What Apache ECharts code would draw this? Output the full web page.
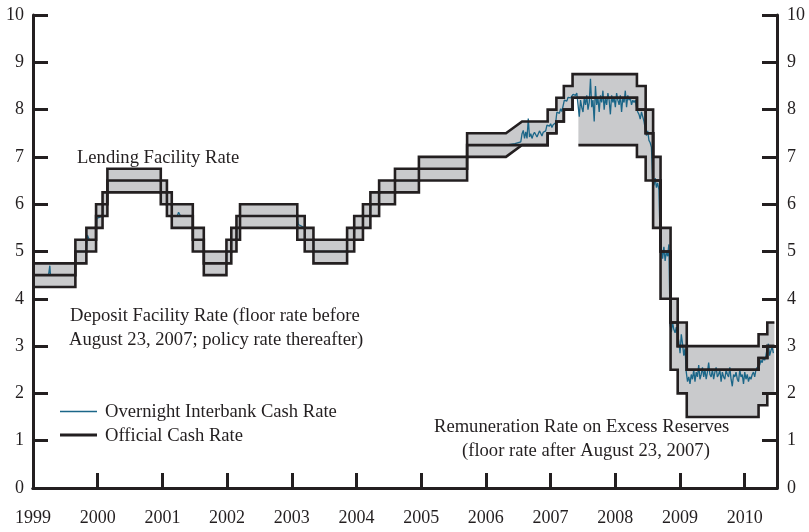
<!DOCTYPE html>
<html>
<head>
<meta charset="utf-8">
<script src="https://cdn.jsdelivr.net/npm/echarts@6.0.0/dist/echarts.min.js"></script>
<style>
  html, body { margin: 0; padding: 0; background: #fff; }
  #chart { width: 809px; height: 532px; }
</style>
</head>
<body>
<div id="chart"></div>
<script>
// x = position in years as plotted, y = rate in per cent
// each step: [year the level starts, level] ; optional 3rd item = year the move ends (a ramp)
const yearTicks = [1999, 2000, 2001, 2002, 2003, 2004, 2005, 2006, 2007, 2008, 2009, 2010]
const endYear = 2010.46

const ocrSteps = [
  [1999.00, 4.50], [1999.655, 5.00], [1999.825, 5.25], [1999.975, 5.75], [2000.075, 6.00],
  [2000.15, 6.50], [2000.975, 6.25], [2001.07, 6.00], [2001.145, 5.75], [2001.47, 5.25],
  [2001.64, 4.75], [2001.99, 5.00], [2002.065, 5.25], [2002.145, 5.50], [2002.20, 5.75],
  [2003.085, 5.50], [2003.20, 5.25], [2003.335, 5.00], [2003.855, 5.25], [2003.965, 5.50],
  [2004.10, 5.75], [2004.215, 6.00], [2004.35, 6.25], [2004.595, 6.50], [2004.965, 6.75],
  [2005.71, 7.25], [2006.955, 7.50], [2007.09, 7.75], [2007.205, 8.00], [2007.34, 8.25],
  [2008.335, 8.00], [2008.47, 7.50], [2008.585, 6.50], [2008.70, 5.00], [2008.855, 3.50],
  [2008.965, 3.00], [2009.105, 2.50], [2010.215, 2.75], [2010.35, 3.00]
]

const lendSteps = [
  [1999.00, 4.75], [1999.655, 5.25], [1999.825, 5.50], [1999.975, 6.00], [2000.075, 6.25],
  [2000.15, 6.75], [2000.975, 6.50], [2001.07, 6.25], [2001.145, 6.00], [2001.47, 5.50],
  [2001.64, 5.00], [2001.99, 5.25], [2002.065, 5.50], [2002.145, 5.75], [2002.20, 6.00],
  [2003.085, 5.75], [2003.20, 5.50], [2003.335, 5.25], [2003.855, 5.50], [2003.965, 5.75],
  [2004.10, 6.00], [2004.215, 6.25], [2004.35, 6.50], [2004.595, 6.75], [2004.965, 7.00],
  [2005.71, 7.50], [2006.31, 7.75, 2006.56], [2006.955, 8.00], [2007.09, 8.25], [2007.205, 8.50],
  [2007.34, 8.75], [2008.335, 8.50], [2008.47, 8.00], [2008.585, 7.00], [2008.70, 5.50],
  [2008.855, 4.00], [2008.965, 3.50], [2009.105, 3.00], [2010.215, 3.25], [2010.35, 3.50]
]

const depoSteps = [
  [1999.00, 4.25], [1999.655, 4.75], [1999.825, 5.00], [1999.975, 5.50], [2000.075, 5.75],
  [2000.15, 6.25], [2000.975, 6.00], [2001.07, 5.75], [2001.145, 5.50], [2001.47, 5.00],
  [2001.64, 4.50], [2001.99, 4.75], [2002.065, 5.00], [2002.145, 5.25], [2002.20, 5.50],
  [2003.085, 5.25], [2003.20, 5.00], [2003.335, 4.75], [2003.855, 5.00], [2003.965, 5.25],
  [2004.10, 5.50], [2004.215, 5.75], [2004.35, 6.00], [2004.595, 6.25], [2004.965, 6.50],
  [2005.71, 7.00], [2006.31, 7.25, 2006.56], [2006.955, 7.50], [2007.09, 7.75], [2007.205, 8.00],
  [2007.34, 8.25], [2008.335, 8.00], [2008.47, 7.50], [2008.585, 6.50], [2008.70, 5.00],
  [2008.855, 3.50], [2008.965, 3.00], [2009.105, 2.50], [2010.215, 2.75], [2010.35, 3.00]
]

// remuneration rate on excess reserves, from August 23, 2007
const remSteps = [
  [2007.43, 7.25], [2008.335, 7.00], [2008.47, 6.50], [2008.585, 5.50], [2008.70, 4.00],
  [2008.855, 2.50], [2008.965, 2.00], [2009.105, 1.50], [2010.215, 1.75], [2010.35, 2.00]
]

// overnight interbank cash rate: sparse points while it sits on the OCR ...
const cashQuiet = [
  [1999.00, 4.50], [1999.24, 4.50], [1999.26, 4.70], [1999.27, 4.50], [1999.655, 4.50],
  [1999.66, 5.00], [1999.825, 5.00], [1999.84, 5.35], [1999.87, 5.25], [1999.975, 5.25],
  [1999.985, 5.70], [2000.075, 5.75], [2000.08, 6.00], [2000.15, 6.00], [2000.155, 6.50],
  [2000.975, 6.50], [2000.98, 6.25], [2001.07, 6.25], [2001.075, 6.00], [2001.145, 6.00],
  [2001.15, 5.75], [2001.23, 5.75], [2001.25, 5.83], [2001.28, 5.75], [2001.47, 5.75],
  [2001.475, 5.25], [2001.64, 5.25], [2001.645, 4.75], [2001.99, 4.75], [2001.995, 5.00],
  [2002.065, 5.00], [2002.07, 5.25], [2002.145, 5.25], [2002.15, 5.50], [2002.20, 5.50],
  [2002.205, 5.75], [2003.085, 5.75], [2003.10, 5.57], [2003.20, 5.50], [2003.205, 5.25],
  [2003.335, 5.25], [2003.34, 5.00], [2003.855, 5.00], [2003.86, 5.25], [2003.965, 5.25],
  [2003.97, 5.50], [2004.10, 5.50], [2004.105, 5.75], [2004.215, 5.75], [2004.22, 6.00],
  [2004.35, 6.00], [2004.355, 6.25], [2004.595, 6.25], [2004.60, 6.50], [2004.965, 6.50],
  [2004.97, 6.75], [2005.71, 6.75], [2005.715, 7.25], [2006.31, 7.25], [2006.45, 7.28]
]
// ... then weekly values from mid-2006 on
const cashWeekStart = 2006.54
const cashWeekly = [
  7.32, 7.49, 7.56, 7.39, 7.53, 7.39, 7.81, 7.42, 7.49, 7.39, 7.47, 7.52, 7.49, 7.42, 7.45,
  7.55, 7.50, 7.44, 7.52, 7.48, 7.55, 7.67,
  7.67, 7.65, 7.70, 7.62, 7.68, 7.66, 7.72,
  7.95, 7.98, 7.92, 8.02, 7.96, 7.99,
  8.20, 8.24, 8.18, 8.26, 8.22, 8.25, 8.28,
  8.32, 8.36, 8.30, 8.35, 8.33,
  7.85, 8.20, 8.05, 7.95, 8.25, 8.10, 8.30, 8.00, 8.15, 8.65, 8.05, 8.20, 7.75, 8.50, 8.10,
  8.25, 7.95, 8.30, 8.15, 8.40, 8.00, 8.25, 8.10, 8.35, 8.20, 7.90, 8.30, 8.15, 8.25, 8.05,
  8.35, 8.20, 8.10, 8.30, 7.95, 8.25, 8.15, 8.40, 8.05, 8.30, 8.20, 8.25, 8.10, 8.20, 8.15, 8.20,
  8.05, 7.95, 7.90, 7.80, 7.95, 7.85, 7.75,
  7.60, 7.45, 7.55, 7.35, 7.30, 7.20,
  6.50, 6.40, 6.55, 6.35, 6.45, 6.30,
  5.25, 5.05, 4.85, 5.10, 4.80, 5.00, 4.90, 5.15,
  3.45, 3.30, 3.50, 3.35, 3.28, 3.40,
  3.40, 3.10, 2.85, 3.25, 3.05, 2.80, 2.95,
  2.45, 2.25, 2.35, 2.20, 2.40, 2.30, 2.50, 2.25, 2.45, 2.35, 2.60, 2.30, 2.40, 2.55, 2.35,
  2.50, 2.30, 2.45, 2.65, 2.40, 2.35, 2.50, 2.30, 2.45, 2.55, 2.35, 2.40, 2.50, 2.25, 2.45,
  2.35, 2.30, 2.50, 2.40, 2.35, 2.55, 2.30, 2.15, 2.40, 2.35, 2.45, 2.30, 2.25, 2.50, 2.35,
  2.40, 2.20, 2.45, 2.30, 2.40, 2.25, 2.35, 2.30, 2.40, 2.45, 2.35, 2.50, 2.55,
  2.55, 2.60, 2.70, 2.65, 2.75, 2.70, 2.80,
  2.95, 3.05, 2.80, 2.90, 3.00, 2.85
]

const SERIF = '"Liberation Serif", "DejaVu Serif", serif'
const NOTE_FONT = '18.6px ' + SERIF
const INK = '#231f20'
const TEAL = '#1b6688'
const BAND = '#c9cacc'

// turn a list of steps into line vertices
function toPath(steps, end) {
  const pts = []
  steps.forEach(function (s, i) {
    if (i > 0) {
      pts.push([s[0], steps[i - 1][1]])
      pts.push([s.length > 2 ? s[2] : s[0], s[1]])
    } else {
      pts.push([s[0], s[1]])
    }
  })
  pts.push([end, steps[steps.length - 1][1]])
  return pts
}

const lendPath = toPath(lendSteps, endYear)
const depoPath = toPath(depoSteps, endYear)
const remPath = toPath(remSteps, endYear)
const ocrPath = toPath(ocrSteps, endYear)
// shaded corridor: lending rate on top, deposit rate then remuneration rate as floor
const floorPath = toPath(depoSteps.filter(function (s) { return s[0] < remSteps[0][0] }).concat(remSteps), endYear)
const bandPts = lendPath.concat(floorPath.slice().reverse())
const cashPts = cashQuiet.concat(cashWeekly.map(function (v, i) { return [cashWeekStart + i / 52, v] }))

function blackLine(data) {
  return {
    type: 'line', data: data, showSymbol: false, z: 4, silent: true,
    lineStyle: { color: INK, width: 2.6, join: 'miter' }
  }
}

function note(x, y, text) {
  return { type: 'text', x: x, y: y, style: { text: text, font: NOTE_FONT, fill: INK, verticalAlign: 'middle' } }
}

const axisLine = { show: true, lineStyle: { color: INK, width: 3 } }
const axisTick = { show: true, inside: true, length: 15, lineStyle: { color: INK, width: 3 } }
const labelStyle = { color: INK, fontFamily: SERIF, fontSize: 18 }

const chart = echarts.init(document.getElementById('chart'), null, { renderer: 'canvas' })
chart.setOption({
  animation: false,
  backgroundColor: '#fff',
  grid: { left: 33, right: 32, top: 15, bottom: 44 },
  xAxis: [{
    type: 'value', min: yearTicks[0], max: 2010.5, interval: 1, position: 'bottom', z: 10,
    axisLine: axisLine, axisTick: axisTick, splitLine: { show: false },
    axisLabel: Object.assign({ margin: 21, formatter: function (v) { return yearTicks.indexOf(v) >= 0 ? String(v) : '' } }, labelStyle)
  }, {
    type: 'value', min: yearTicks[0], max: 2010.5, interval: 1, position: 'top', z: 10,
    axisLine: axisLine, axisTick: { show: false }, axisLabel: { show: false }, splitLine: { show: false }
  }],
  yAxis: [{
    type: 'value', min: 0, max: 10, interval: 1, position: 'left', z: 10,
    axisLine: axisLine, axisTick: axisTick, splitLine: { show: false },
    axisLabel: Object.assign({ margin: 9 }, labelStyle)
  }, {
    type: 'value', min: 0, max: 10, interval: 1, position: 'right', z: 10,
    axisLine: axisLine, axisTick: axisTick, splitLine: { show: false },
    axisLabel: Object.assign({ margin: 10 }, labelStyle)
  }],
  series: [
    {
      type: 'custom', z: 1, silent: true, data: [[yearTicks[0], 0]],
      renderItem: function (params, api) {
        return {
          type: 'polygon',
          shape: { points: bandPts.map(function (p) { return api.coord(p) }) },
          style: { fill: BAND }
        }
      }
    },
    {
      type: 'line', data: cashPts, showSymbol: false, z: 3, silent: true,
      lineStyle: { color: TEAL, width: 1.3 }
    },
    blackLine(lendPath),
    blackLine(depoPath),
    blackLine(remPath),
    blackLine(ocrPath)
  ],
  graphic: [
    note(77, 158, 'Lending Facility Rate'),
    note(70, 316, 'Deposit Facility Rate (floor rate before'),
    note(69, 340, 'August 23, 2007; policy rate thereafter)'),
    { type: 'line', shape: { x1: 60, y1: 411.5, x2: 97, y2: 411.5 }, style: { stroke: TEAL, lineWidth: 1.3 } },
    note(105, 412, 'Overnight Interbank Cash Rate'),
    { type: 'line', shape: { x1: 60, y1: 435, x2: 97, y2: 435 }, style: { stroke: INK, lineWidth: 3 } },
    note(105, 436, 'Official Cash Rate'),
    note(434, 427, 'Remuneration Rate on Excess Reserves'),
    note(462, 451, '(floor rate after August 23, 2007)')
  ]
})
</script>
</body>
</html>
